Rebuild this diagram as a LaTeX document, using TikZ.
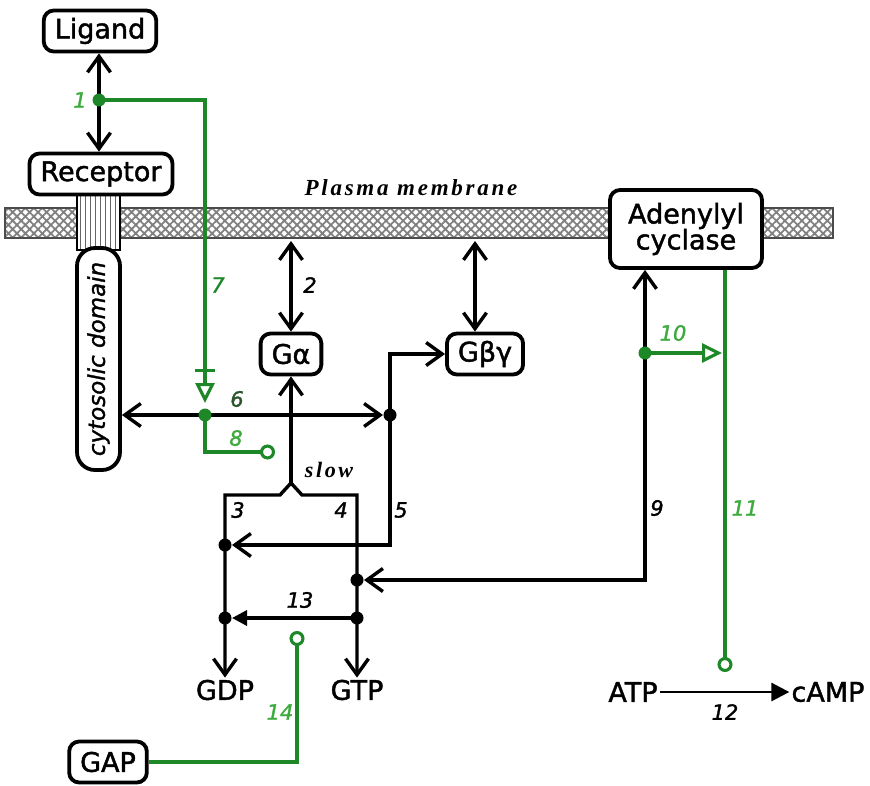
\documentclass[tikz,border=0pt]{standalone}
\usepackage{fontspec}
\setmainfont{DejaVu Sans}
\newfontfamily\boxfont[BoldFont={DejaVu Sans},BoldFeatures={FakeBold=1.6},
  BoldItalicFont={DejaVu Sans Oblique},BoldItalicFeatures={FakeBold=1.4}]{DejaVu Sans}
\newfontfamily\spacedfont[LetterSpace=12]{Liberation Serif}
\usetikzlibrary{arrows.meta,patterns.meta}

\definecolor{pathgreen}{RGB}{30,135,40}
\definecolor{numgreen}{RGB}{60,170,60}
\definecolor{darkgreen}{RGB}{45,85,45}

\tikzset{
  box/.style={draw,line width=3.8pt,rounded corners=10pt,fill=white,align=center,
    font=\boxfont\bfseries\fontsize{27}{30}\selectfont,inner xsep=11pt,minimum height=41pt},
  plain/.style={font=\boxfont\bfseries\fontsize{27}{30}\selectfont,inner sep=2pt},
  link/.style={line width=3.4pt},
  glink/.style={line width=3.1pt,draw=pathgreen},
  barb/.tip={Straight Barb[length=16pt,width=23pt]},
  otri/.tip={Triangle[open,length=20pt,width=19pt]},
  ocirc/.tip={Circle[open,length=15pt]},
  num/.style={font=\boxfont\bfseries\itshape\fontsize{21}{23}\selectfont},
  spaced/.style={font=\spacedfont\bfseries\itshape\fontsize{23}{26}\selectfont}
}

\begin{document}
\begin{tikzpicture}[x=1pt,y=-1pt]
  \useasboundingbox (0,0) rectangle (870,785);
  % membrane
  \draw[line width=1.4pt,draw=black!70,pattern={Hatch[angle=45,distance=6pt,line width=1.8pt]},pattern color=black!50] (5,208) rectangle (833,238);
  \node[spaced] (pm) at (411,188) {Plasma membrane};
  \draw[line width=2.8pt,preaction={fill=white},pattern={Lines[angle=90,distance=5pt,line width=1pt]},pattern color=black!60] (77,193) rectangle (120,250);
  \node[box,rotate=90,minimum width=222pt,minimum height=43pt,inner sep=0pt,rounded corners=18pt,font=\boxfont\bfseries\itshape\fontsize{23}{25}\selectfont] (cyto) at (98.5,359) {cytosolic domain};

  \node[box] (ligand) at (100,31) {Ligand};
  \node[box] (receptor) at (101,174) {Receptor};
  \node[box] (galpha) at (291,354) {Gα};
  \node[box] (gbg) at (485,354) {Gβγ};
  \node[box,minimum width=152pt,minimum height=78pt] (cyclase) at (686,229) {Adenylyl\\[-4pt]cyclase};
  \node[box] (gap) at (108,762) {GAP};
  \node[plain] (gdp) at (225,690) {GDP};
  \node[plain] (gtp) at (357,690) {GTP};
  \node[plain] (atp) at (633,692) {ATP};
  \node[plain] (camp) at (828,692) {cAMP};

  \coordinate (d1) at (99,100);
  \coordinate (d7) at (205,415);
  \coordinate (d6) at (390,415);
  \coordinate (peak) at (291,483);
  \coordinate (d5) at (225,545);
  \coordinate (d9) at (357,580);
  \coordinate (d13l) at (225,618);
  \coordinate (d13r) at (357,618);
  \coordinate (c9) at (645,578);
  \coordinate (d10) at (645,353);
  \coordinate (c11) at (725,672);
  \coordinate (e8) at (275,452);
  \coordinate (g14) at (297,631);
  \coordinate (m2) at (291,241);
  \coordinate (m3) at (475,241);

  % black reactions
  \draw[link,barb-barb] (ligand.south -| d1) -- (receptor.north -| d1);
  \draw[link,barb-barb] (m2) -- (galpha.north);
  \draw[link,barb-barb] (m3) -- (gbg.north -| m3);
  \draw[link,barb-barb,shorten >=7pt] (cyto.south |- d6) -- (d6);
  \draw[link,-barb] (peak) -- (galpha.south);
  \draw[link,-barb] (peak) -- (280,495) -| (gdp.north);
  \draw[link,-barb] (peak) -- (302,495) -| (gtp.north);
  \draw[link,-barb] (d6) |- (gbg.west);
  \draw[link,-barb,shorten >=7pt] (d6) |- (d5);
  \draw[link,barb-barb,shorten <=7pt] (d9) -| (cyclase.south -| c9);
  \draw[link,-{Triangle[length=15pt,width=15pt]},shorten >=7pt] (d13r) -- (d13l);
  \draw[line width=2.8pt,-{Triangle[length=18pt,width=18pt]}] (atp) -- (camp);

  % green regulation
  \draw[glink,-{Bar[width=20pt,sep=11pt] otri},shorten >=12pt] (d1) -| (d7);
  \draw[glink,-ocirc] (d7) |- (e8);
  \draw[glink,-otri,shorten >=3pt] (d10) -- (d10 -| c11);
  \draw[glink,-ocirc] (cyclase.south -| c11) -- (c11);
  \draw[glink,-ocirc] (gap) -| (g14);

  % dots
  \foreach \d in {d6,d5,d9,d13l,d13r}
    \fill (\d) circle (6.5pt);
  \foreach \d in {d1,d7,d10}
    \fill[pathgreen] (\d) circle (6.5pt);

  % labels
  \node[num,numgreen] at (80,100) {1};
  \node[num] at (310,285) {2};
  \node[num] at (238,510) {3};
  \node[num] at (341,510) {4};
  \node[num] at (401,510) {5};
  \node[num,darkgreen] at (237,399) {6};
  \node[num,pathgreen] at (218,285) {7};
  \node[num,numgreen] at (236,438) {8};
  \node[num] at (657,508) {9};
  \node[num,numgreen] at (673,333) {10};
  \node[num,numgreen] at (745,508) {11};
  \node[num] at (725,712) {12};
  \node[num] at (300,600) {13};
  \node[num,numgreen] at (280,712) {14};
  \node[spaced,font=\spacedfont\bfseries\itshape\fontsize{22}{24}\selectfont] at (329,470) {slow};
\end{tikzpicture}
\end{document}
